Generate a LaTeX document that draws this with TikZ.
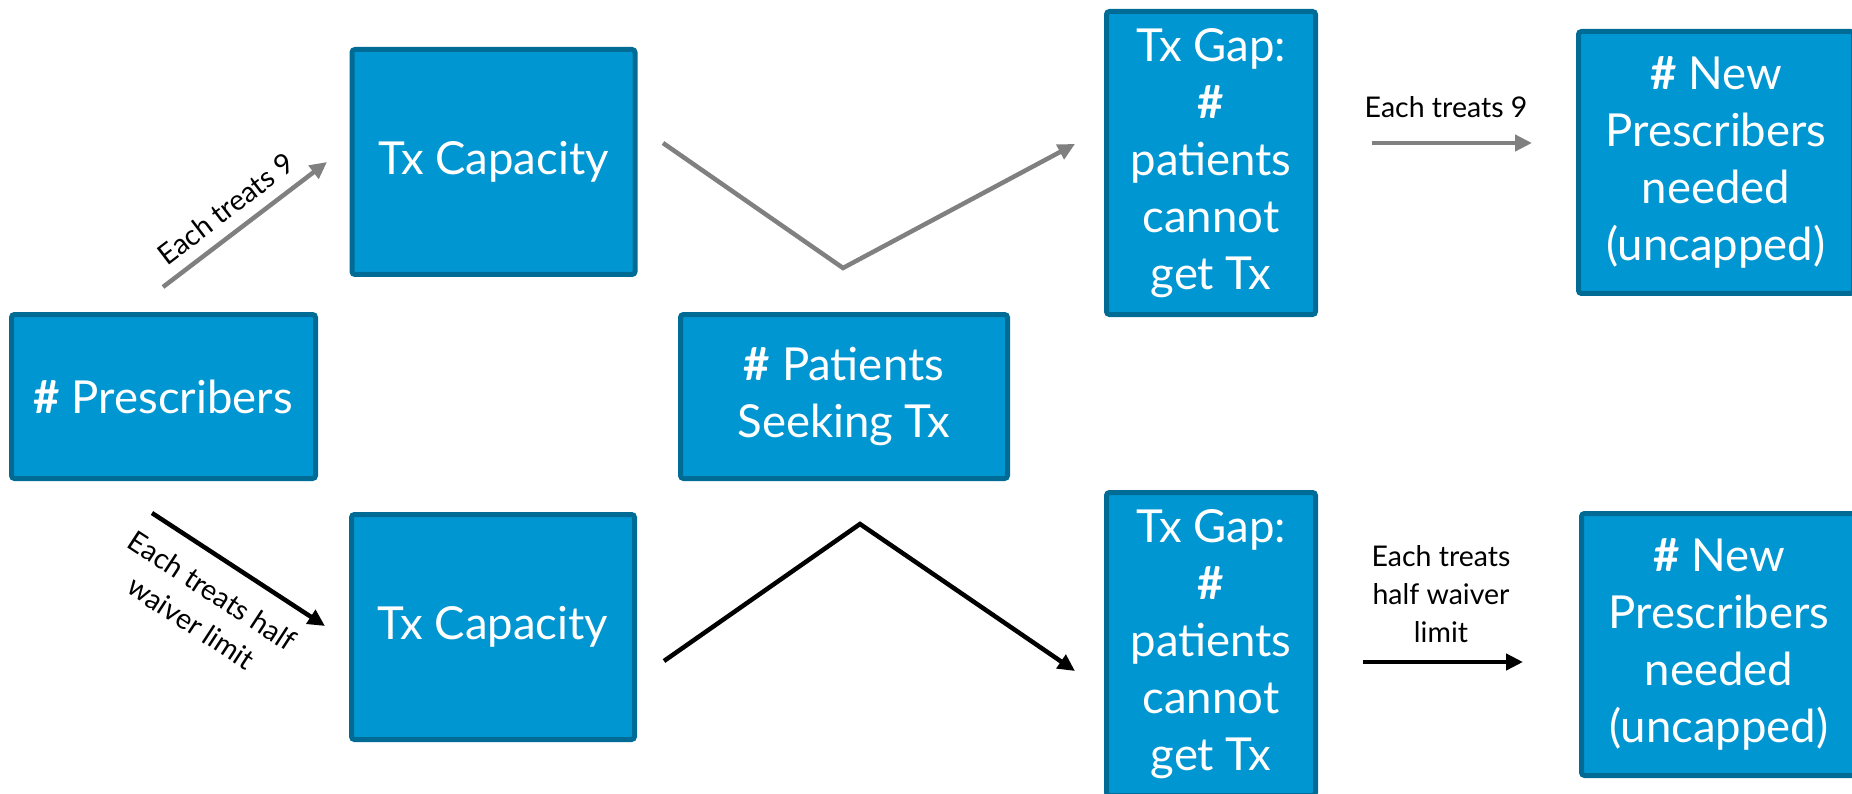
\documentclass[tikz,border=0pt]{standalone}
\usepackage{fontspec}
\setmainfont{Lato}
\usetikzlibrary{arrows.meta,calc}
\definecolor{boxfill}{RGB}{0,150,210}
\definecolor{boxline}{RGB}{0,108,150}
\definecolor{arrgray}{RGB}{128,128,128}
\begin{document}
\begin{tikzpicture}[x=1pt,y=-1pt,
  box/.style={draw=boxline, fill=boxfill, line width=5pt, rounded corners=3pt,
    text=white, align=center, font=\fontsize{45.5}{57}\selectfont, inner sep=0pt},
  grayarr/.style={draw=arrgray, line width=4.5pt, -{Triangle[length=17pt,width=16pt]}},
  blackarr/.style={draw=black, line width=4.5pt, -{Triangle[length=17pt,width=16pt]}},
  lbl/.style={font=\fontsize{28.5}{38}\selectfont, align=center, text=black}]
\useasboundingbox (0,0) rectangle (1852,794);
\clip (0,0) rectangle (1852,794);

% boxes
\node[box, minimum width=304pt, minimum height=164pt] (pres) at (163.5,396.5) {\textbf{\#} Prescribers};
\node[box, minimum width=283pt, minimum height=225pt] (capT) at (493.5,162) {Tx Capacity};
\node[box, minimum width=283pt, minimum height=225pt] (capB) at (493,627) {Tx Capacity};
\node[box, minimum width=327pt, minimum height=164pt] (pat) at (844,396.5) {\textbf{\#} Patients\\Seeking Tx};
\node[box, minimum width=209pt, minimum height=303pt] (gapT) at (1211,163) {Tx Gap:\\\textbf{\#}\\patients\\cannot\\get Tx};
\node[box, minimum width=209pt, minimum height=303pt] (gapB) at (1211,644) {Tx Gap:\\\textbf{\#}\\patients\\cannot\\get Tx};
\node[box, minimum width=275pt, minimum height=262pt] (npT) at (1716,162.5) {\textbf{\#} New\\Prescribers\\needed\\(uncapped)};
\node[box, minimum width=275pt, minimum height=262pt] (npB) at (1719,644.5) {\textbf{\#} New\\Prescribers\\needed\\(uncapped)};

% connector end points
\coordinate (a1s) at (163,287);
\coordinate (a1e) at (327,162);
\coordinate (a2s) at (152,513);
\coordinate (a2e) at (325,626);
\coordinate (vs) at (663,143);
\coordinate (vb) at (843,268);
\coordinate (ve) at (1075,144);
\coordinate (ls) at (664,661);
\coordinate (la) at (860,524);
\coordinate (le) at (1075,671);
\coordinate (h1s) at (1372,143);
\coordinate (h1e) at (1532,143);
\coordinate (h2s) at (1363,662);
\coordinate (h2e) at (1523,662);

% connectors
\draw[grayarr] (a1s) -- node[lbl, sloped, above=8pt, pos=0.47] {Each treats 9} (a1e);
\draw[blackarr] (a2s) -- node[lbl, sloped, below=16pt, pos=0.45] {Each treats half\\waiver limit} (a2e);
\draw[grayarr] (vs) -- (vb) -- (ve);
\draw[blackarr] (ls) -- (la) -- (le);
\draw[grayarr] (h1s) -- (h1e);
\draw[blackarr] (h2s) -- (h2e);

% labels of the horizontal arrows
\node[lbl, anchor=base] (l1) at (1446,118) {Each treats 9};
\node[lbl, anchor=south] (l2) at (1441,646) {Each treats\\half waiver\\limit};
\end{tikzpicture}
\end{document}
